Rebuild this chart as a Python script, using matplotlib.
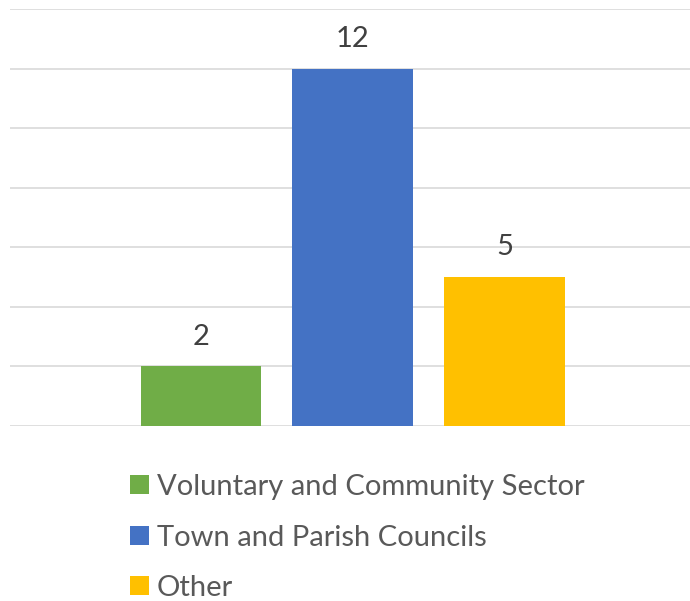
import matplotlib
matplotlib.use('Agg')
import matplotlib.pyplot as plt
from matplotlib.patches import Patch

# 数据
categories = ['Voluntary and Community Sector', 'Town and Parish Councils', 'Other']
values = [2, 12, 5]
colors = ['#70AD47', '#4472C4', '#FFC000']

plt.rcParams['font.family'] = ['Lato', 'DejaVu Sans']

fig = plt.figure(figsize=(6.9, 6.01), dpi=100)
ax = fig.add_axes([10 / 690, 175 / 601, 680 / 690, 417 / 601])

x = list(range(len(categories)))
bars = ax.bar(x, values, width=0.794, color=colors, zorder=2)
ax.bar_label(bars, labels=[str(v) for v in values], padding=12,
             fontsize=21, color='#404040')

ax.set_ylim(0, 14)
ax.set_xlim(-1.259, 3.223)
ax.set_yticks(range(0, 15, 2))
ax.yaxis.grid(True, color='#D9D9D9', linewidth=1.2, zorder=0)
ax.tick_params(left=False, bottom=False, labelleft=False, labelbottom=False)
for s in ax.spines.values():
    s.set_visible(False)

# 图例
handles = [Patch(facecolor=c, edgecolor='none') for c in colors]
fig.legend(handles, categories, loc='upper left', bbox_to_anchor=(130 / 690, 1 - 474 / 601),
           frameon=False, fontsize=21, labelcolor='#595959',
           handlelength=0.65, handleheight=0.65, handletextpad=0.27,
           labelspacing=0.84, borderpad=0, borderaxespad=0)

fig.savefig('out.png', dpi=100)
